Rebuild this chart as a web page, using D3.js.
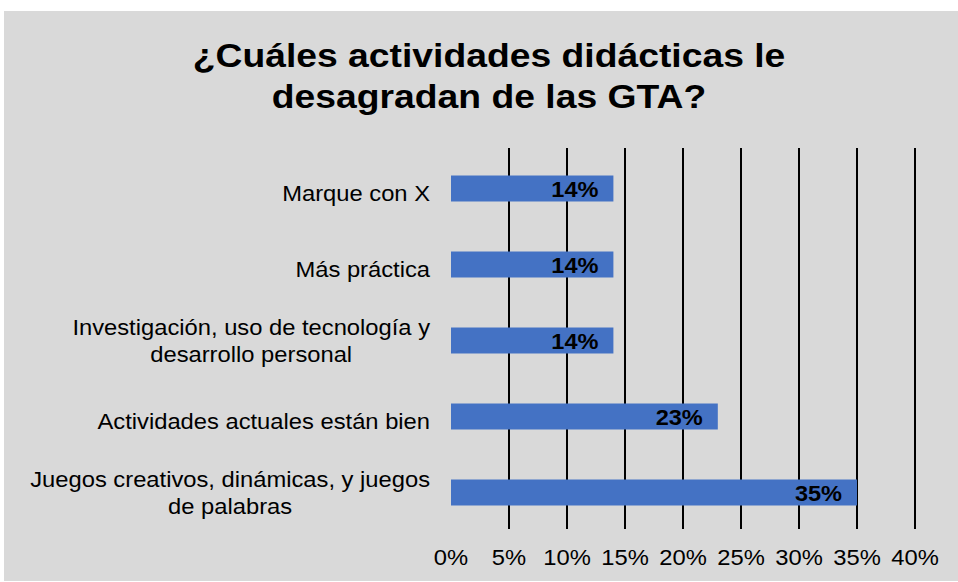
<!DOCTYPE html>
<html>
<head>
<meta charset="utf-8">
<script src="https://cdn.jsdelivr.net/npm/d3@7"></script>
<style>
  body { margin: 0; background: #fff; }
  svg { display: block; font-family: "Liberation Sans", Arial, sans-serif; }
</style>
</head>
<body>
<svg></svg>
<script>
const width = 958;
const height = 582;

// data
const categories = [
  'Marque con X',
  'Más práctica',
  'Investigación, uso de tecnología y\ndesarrollo personal',
  'Actividades actuales están bien',
  'Juegos creativos, dinámicas, y juegos\nde palabras'
];
const values = [0.14, 0.14, 0.14, 0.23, 0.35];
const valueLabels = ['14%', '14%', '14%', '23%', '35%'];
const tickValues = [0, 0.05, 0.1, 0.15, 0.2, 0.25, 0.3, 0.35, 0.4];
const titleLines = ['¿Cuáles actividades didácticas le', 'desagradan de las GTA?'];

const plotLeft = 451;
const plotRight = 915;
const plotTop = 150.5;
const plotBottom = 530.5;

window.onload = () => {
  const svg = d3.select('svg')
      .attr('width', width)
      .attr('height', height);

  svg.append('rect')
      .attr('x', 4)
      .attr('y', 11)
      .attr('width', width - 4)
      .attr('height', 570)
      .attr('fill', '#d9d9d9');

  const x = d3.scaleLinear()
      .domain([0, 0.4])
      .range([plotLeft, plotRight]);

  const y = d3.scaleBand()
      .domain(categories)
      .range([plotTop, plotBottom])
      .paddingInner(0.658)
      .paddingOuter(0.329);

  // the reference text is a little stretched sideways
  function stretchedText(g, tx, ty, sx) {
    return g.append('text')
        .attr('transform', `translate(${tx},${ty}) scale(${sx},1)`);
  }

  // title
  titleLines.forEach((line, i) => {
    stretchedText(svg, 489, 67 + i * 41, 1.13)
        .attr('text-anchor', 'middle')
        .attr('font-size', 33)
        .attr('font-weight', 'bold')
        .attr('fill', '#000')
        .text(line);
  });

  // gridlines
  svg.append('g')
    .selectAll('line')
    .data(tickValues.slice(1))
    .join('line')
      .attr('x1', d => x(d))
      .attr('x2', d => x(d))
      .attr('y1', 148)
      .attr('y2', 529)
      .attr('stroke', '#000')
      .attr('stroke-width', 2);

  // x tick labels
  svg.append('g')
    .selectAll('g')
    .data(tickValues)
    .join('g')
    .each(function(d) {
      stretchedText(d3.select(this), x(d), 565, 1.08)
          .attr('text-anchor', 'middle')
          .attr('font-size', 22)
          .attr('fill', '#000')
          .text(d3.format('.0%')(d));
    });

  // bars
  svg.append('g')
    .selectAll('rect')
    .data(values)
    .join('rect')
      .attr('x', x(0))
      .attr('y', (d, i) => y(categories[i]))
      .attr('width', d => x(d) - x(0))
      .attr('height', y.bandwidth())
      .attr('fill', '#4472c4');

  // value labels
  svg.append('g')
    .selectAll('g')
    .data(values)
    .join('g')
    .each(function(d, i) {
      stretchedText(d3.select(this), x(d) - 15, y(categories[i]) + y.bandwidth() / 2 + 8.5, 1.07)
          .attr('text-anchor', 'end')
          .attr('font-size', 22)
          .attr('font-weight', 'bold')
          .attr('fill', '#000')
          .text(valueLabels[i]);
    });

  // category labels: block right aligned, lines centred in it
  const labelRight = 430;
  const sx = 1.08;
  categories.forEach(cat => {
    const lines = cat.split('\n');
    const g = svg.append('g');
    const cy = y(cat) + y.bandwidth() / 2;
    const base = lines.length === 1 ? 12 : 7.5;
    const lineY = i => cy + base + (i - (lines.length - 1) / 2) * 27;
    const texts = lines.map((line, i) =>
      stretchedText(g, 0, lineY(i), sx)
          .attr('font-size', 22)
          .attr('fill', '#000')
          .text(line)
    );
    const maxW = d3.max(texts, t => t.node().getComputedTextLength() * sx);
    texts.forEach((t, i) => {
      t.attr('text-anchor', 'middle')
       .attr('transform', `translate(${labelRight - maxW / 2},${lineY(i)}) scale(${sx},1)`);
    });
  });
};
</script>
</body>
</html>
